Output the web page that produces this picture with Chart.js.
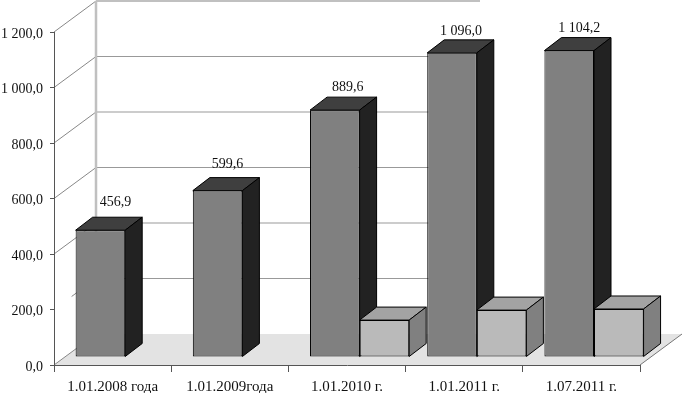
<!DOCTYPE html>
<html>
<head>
<meta charset="utf-8">
<style>
  html, body { margin: 0; padding: 0; background: #fff; }
  canvas { display: block; }
</style>
<script src="https://cdn.jsdelivr.net/npm/chart.js@4/dist/chart.umd.min.js"></script>
</head>
<body>
<canvas id="chart" width="683" height="393"></canvas>
<script>
const categories = ['1.01.2008 года', '1.01.2009года', '1.01.2010 г.', '1.01.2011 г.', '1.07.2011 г.'];
const darkValues = [456.9, 599.6, 889.6, 1096.0, 1104.2];
const lightValues = [null, null, 133, 169, 173];

const FONT = '"Liberation Serif", "Times New Roman", serif';

// box depth: the wall sits behind the axes, the bars stand part way back on the floor
const WALL_DX = 42;
const WALL_DY = -31;
const BAR_DX = 12.6;
const BAR_DY = -8;
const BOX_DX = 17;
const BOX_DY = -13;

// the source picture stops its wall lines early, behind the fourth bar
const GRID_END = 445;
const TOP_LINE_END = 480;

// hand placed value labels, relative to the bar's top centre
const labelShiftX = [15, 10, 13, 9, 10];
const labelShiftY = [-28, -26, -23, -22, -22];

const faces = [
  { top: '#3f3f3f', side: '#222222' },
  { top: '#a3a3a3', side: '#808080' }
];

function formatValue(value) {
  const parts = Number(value).toFixed(1).split('.');
  return parts[0].replace(/\B(?=(\d{3})+$)/g, ' ') + ',' + parts[1];
}

function fillFace(ctx, points, color) {
  ctx.beginPath();
  points.forEach(([x, y], i) => (i ? ctx.lineTo(x, y) : ctx.moveTo(x, y)));
  ctx.closePath();
  ctx.fillStyle = color;
  ctx.fill();
  ctx.lineWidth = 1;
  ctx.strokeStyle = '#000';
  ctx.stroke();
}

function line(ctx, x1, y1, x2, y2, color, width) {
  ctx.beginPath();
  ctx.moveTo(x1, y1);
  ctx.lineTo(x2, y2);
  ctx.strokeStyle = color;
  ctx.lineWidth = width;
  ctx.stroke();
}

const box3d = {
  id: 'box3d',
  beforeDraw(chart) {
    const { ctx, chartArea: area, scales } = chart;
    const yScale = scales.y;
    const backX = area.left + WALL_DX;
    ctx.save();
    ctx.fillStyle = '#fff';
    ctx.fillRect(0, 0, chart.width, chart.height);

    // floor
    ctx.beginPath();
    ctx.moveTo(area.left, area.bottom);
    ctx.lineTo(area.right, area.bottom);
    ctx.lineTo(area.right + WALL_DX, area.bottom + WALL_DY);
    ctx.lineTo(backX, area.bottom + WALL_DY);
    ctx.closePath();
    ctx.fillStyle = '#e3e3e3';
    ctx.fill();
    line(ctx, area.right, area.bottom, area.right + WALL_DX, area.bottom + WALL_DY, '#777', 1);

    // back wall and left wall
    yScale.ticks.forEach((tick) => {
      const y = yScale.getPixelForValue(tick.value);
      const isTop = tick.value === yScale.max;
      if (tick.value !== yScale.min) {
        line(ctx, backX, y + WALL_DY, isTop ? TOP_LINE_END : GRID_END, y + WALL_DY, isTop ? '#c0c0c0' : '#999', isTop ? 2 : 1);
      }
      // the 200 diagonal is mostly missing in the source
      const start = tick.value === 200 ? 0.42 : 0;
      line(ctx, area.left + WALL_DX * start, y + WALL_DY * start, backX, y + WALL_DY, '#888', 1);
    });
    line(ctx, backX, area.top + WALL_DY, backX, area.bottom + WALL_DY, '#c0c0c0', 2.5);
    ctx.restore();
  },
  beforeDatasetsDraw(chart) {
    const { ctx } = chart;
    ctx.save();
    ctx.translate(BAR_DX, BAR_DY);
    chart.data.datasets.forEach((dataset, d) => {
      chart.getDatasetMeta(d).data.forEach((bar, i) => {
        if (dataset.data[i] === null) return;
        const left = bar.x - bar.width / 2;
        const right = bar.x + bar.width / 2;
        fillFace(ctx, [
          [left, bar.y], [left + BOX_DX, bar.y + BOX_DY],
          [right + BOX_DX, bar.y + BOX_DY], [right, bar.y]
        ], faces[d].top);
        fillFace(ctx, [
          [right, bar.y], [right + BOX_DX, bar.y + BOX_DY],
          [right + BOX_DX, bar.base + BOX_DY], [right, bar.base]
        ], faces[d].side);
      });
    });
  },
  afterDatasetsDraw(chart) {
    const { ctx, scales } = chart;
    // labels only on the dark series
    ctx.font = '14px ' + FONT;
    ctx.fillStyle = '#111';
    ctx.textAlign = 'center';
    ctx.textBaseline = 'middle';
    chart.getDatasetMeta(0).data.forEach((bar, i) => {
      ctx.fillText(formatValue(darkValues[i]), bar.x + labelShiftX[i], bar.y + labelShiftY[i]);
    });
    ctx.restore();

    // y tick labels sit a little below their ticks, which the axis itself cannot do
    ctx.save();
    ctx.font = '14px ' + FONT;
    ctx.fillStyle = '#111';
    ctx.textAlign = 'right';
    ctx.textBaseline = 'middle';
    scales.y.ticks.forEach((tick) => {
      ctx.fillText(tick.label, 43, scales.y.getPixelForValue(tick.value) + 2);
    });
    ctx.restore();
  }
};

new Chart(document.getElementById('chart'), {
  type: 'bar',
  data: {
    labels: categories,
    datasets: [
      {
        data: darkValues,
        backgroundColor: '#808080',
        borderColor: '#000',
        borderWidth: 1,
        borderSkipped: false,
        clip: false
      },
      {
        data: lightValues,
        backgroundColor: '#bababa',
        borderColor: '#000',
        borderWidth: 1,
        borderSkipped: false,
        clip: false
      }
    ]
  },
  plugins: [box3d],
  options: {
    responsive: false,
    animation: false,
    layout: { padding: { left: 0, right: 43, top: 32, bottom: 0 } },
    categoryPercentage: 0.846,
    barPercentage: 1,
    plugins: {
      legend: { display: false },
      tooltip: { enabled: false }
    },
    scales: {
      x: {
        afterFit: (scale) => { scale.height = 28; },
        border: { color: '#555' },
        grid: { drawOnChartArea: false, color: '#555', tickLength: 7 },
        ticks: { color: '#111', font: { family: FONT, size: 15 }, padding: 6, maxRotation: 0 }
      },
      y: {
        min: 0,
        max: 1200,
        afterFit: (scale) => { scale.width = 54; },
        border: { color: '#555' },
        grid: { drawOnChartArea: false, color: '#555', tickLength: 4 },
        ticks: {
          display: false,
          stepSize: 200,
          callback: (value) => formatValue(value)
        }
      }
    }
  }
});
</script>
</body>
</html>
